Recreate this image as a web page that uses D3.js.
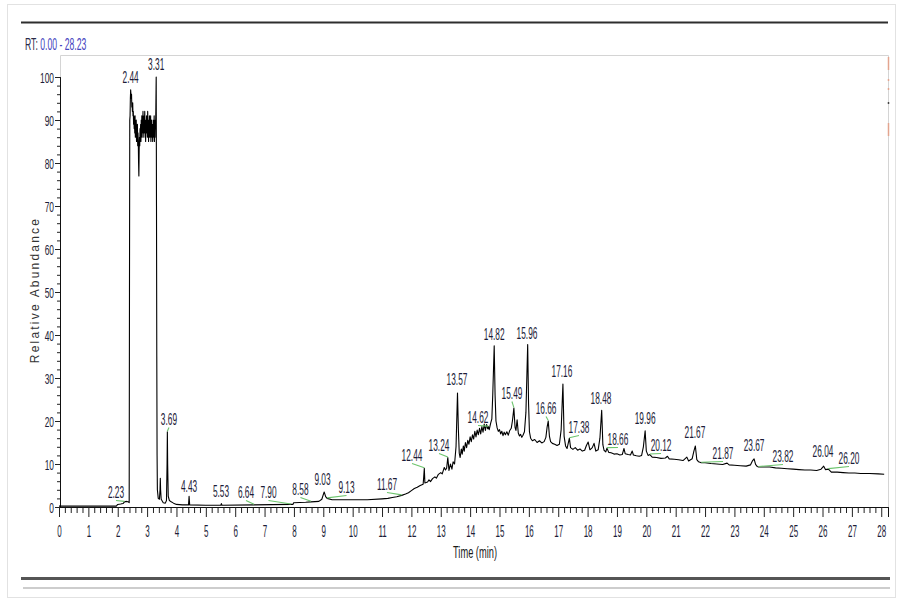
<!DOCTYPE html>
<html><head><meta charset="utf-8">
<script src="https://cdn.jsdelivr.net/npm/d3@7"></script>
<style>
html,body{margin:0;padding:0;background:#fff;}
svg{display:block;}
</style></head>
<body>
<svg id="chart" width="902" height="603"></svg>
<script>
// ---------------- DATA ----------------
const rt = [0.00,1.95,2.00,2.10,2.18,2.23,2.30,2.36,2.39,2.40,2.41,2.42,2.43,2.44,
2.45,2.46,2.47,2.48,2.49,2.50,2.51,2.52,2.53,2.54,
2.55,2.56,2.57,2.58,2.59,2.60,2.61,2.62,2.63,2.64,
2.65,2.66,2.67,2.68,2.69,2.70,2.71,2.72,2.73,2.74,
2.75,2.76,2.77,2.78,2.79,2.80,2.81,2.82,2.83,2.84,
2.85,2.86,2.87,2.88,2.89,2.90,2.91,2.92,2.93,2.94,
2.95,2.96,2.97,2.98,2.99,3.00,3.01,3.02,3.03,3.04,
3.05,3.06,3.07,3.08,3.09,3.10,3.11,3.12,3.13,3.14,
3.15,3.16,3.17,3.18,3.19,3.20,3.21,3.22,3.23,3.24,
3.25,3.26,3.27,3.28,3.29,3.30,3.31,
3.32,3.33,3.34,3.35,3.38,3.42,3.44,3.45,3.46,3.48,3.55,3.62,3.66,3.68,3.69,3.70,3.72,3.76,3.82,3.90,4.00,4.20,4.41,4.43,4.45,5.00,5.51,5.53,5.55,6.64,7.90,7.97,7.99,8.40,8.58,8.85,8.95,9.03,9.08,9.13,9.30,9.80,10.50,11.00,11.20,11.35,11.50,11.67,11.80,11.90,12.00,12.10,12.20,12.30,12.40,12.42,12.44,12.46,12.55,12.60,12.65,12.72,12.80,12.85,12.92,13.00,13.05,13.12,13.16,13.20,13.24,13.28,13.33,13.38,13.42,13.47,13.52,13.57,13.60,13.63,13.66,13.70,13.73,13.77,13.80,13.84,13.88,13.92,13.96,14.00,14.04,14.08,14.12,14.16,14.20,14.24,14.28,14.32,14.36,14.40,14.44,14.48,14.52,14.56,14.60,14.62,14.65,14.70,14.74,14.77,14.82,14.85,14.88,14.92,14.96,15.00,15.04,15.08,15.12,15.16,15.20,15.25,15.30,15.35,15.40,15.44,15.49,15.53,15.56,15.60,15.64,15.68,15.72,15.76,15.80,15.85,15.90,15.96,15.99,16.02,16.06,16.12,16.20,16.28,16.36,16.44,16.52,16.58,16.62,16.66,16.70,16.74,16.80,16.88,16.96,17.04,17.10,17.16,17.20,17.25,17.30,17.38,17.42,17.50,17.58,17.66,17.74,17.82,17.90,17.96,18.02,18.08,18.16,18.22,18.28,18.36,18.42,18.48,18.52,18.56,18.62,18.66,18.72,18.80,18.90,19.00,19.10,19.18,19.24,19.28,19.38,19.46,19.52,19.56,19.66,19.76,19.84,19.90,19.96,20.00,20.06,20.12,20.20,20.35,20.50,20.65,20.72,20.78,20.95,21.10,21.25,21.38,21.44,21.56,21.62,21.67,21.72,21.78,21.87,22.00,22.20,22.40,22.60,22.75,22.82,23.00,23.20,23.40,23.55,23.62,23.67,23.72,23.78,23.82,24.00,24.20,24.40,24.60,24.80,25.00,25.20,25.40,25.60,25.80,25.95,26.04,26.10,26.20,26.30,26.50,26.70,26.90,27.10,27.30,27.60,27.90,28.10];
const abundance = [0.2,0.2,0.6,0.7,0.8,1.2,1.3,1.2,1.0,50,90,91,95,97,
96,95,96,93,94,92,94,91,92,89,
91,88,90,87,91,86,89,87,90,85,
88,86,89,84,87,85,80,77,83,86,
84,88,86,89,85,90,87,91,86,90,
88,92,87,90,86,91,88,92,87,90,
85,89,87,91,88,90,86,92,88,90,
85,89,87,91,86,90,88,91,85,89,
87,90,86,89,85,88,86,90,87,91,
85,89,86,90,88,94,100,
70,35,12,4,2.0,1.8,4,6.7,4,1.8,1.0,0.9,1.5,10,17.5,10,2.5,1.5,1.2,0.9,0.6,0.5,0.5,2.5,0.5,0.4,0.4,0.8,0.4,0.5,0.6,0.6,1.0,1.1,1.2,1.3,1.8,3.5,2.4,2.0,1.7,1.7,1.7,1.9,2.0,2.2,2.4,2.7,3.0,3.3,3.8,4.3,4.6,5.0,5.3,7,9,5.6,5.8,6.3,5.9,6.6,7.0,6.7,7.6,8.0,7.7,9.2,8.6,9.0,11.5,8.5,10.0,8.8,10.5,10.0,14,26.5,18,12.5,11.5,13.5,12.3,14.2,13.0,15.0,13.8,15.5,14.6,16.3,15.2,16.8,15.8,17.6,16.3,17.9,16.8,18.3,17.0,18.7,17.4,19.3,17.8,19.2,18.2,18.7,18.0,19.5,20.5,26,37.5,26,20,18.4,17.6,18.0,17.0,17.6,16.6,17.4,16.8,17.5,16.7,17.8,18.3,20,23,18.5,17.8,20.3,17.2,16.5,16.9,16.2,16.7,17.5,22,37.8,24,17.5,16.0,15.4,15.7,15.0,15.4,14.9,15.2,16.2,18.5,20,16.5,15.2,14.8,14.6,14.3,14.6,18,28.6,16.5,14.2,13.6,16,13.8,13.4,13.8,13.2,13.5,13.0,13.2,14.3,15.1,13.3,13.8,14.8,13.0,13.3,16,22.5,14.5,13.2,12.8,13.7,12.7,12.6,12.3,12.4,12.1,12.2,13.6,12.4,12.2,12.1,13.0,12.1,11.9,11.8,12.0,14,17.7,13.0,12.0,12.2,11.6,11.5,11.3,11.4,11.8,11.2,11.1,11.0,10.8,11.6,10.7,11.2,13,14.2,11.0,10.5,10.3,10.3,10.1,10.0,9.9,10.2,9.8,9.7,9.6,9.5,9.8,10.8,11.2,9.9,9.4,9.3,9.3,9.3,9.1,9.0,8.9,8.8,8.7,8.6,8.6,8.5,8.8,9.5,8.7,8.8,8.1,8.1,8.0,7.9,7.9,7.8,7.8,7.7,7.6];

const peakLabels = ["2.23","2.44","3.31","3.69","4.43","5.53","6.64","7.90","8.58","9.03","9.13","11.67","12.44","13.24","13.57","14.62","14.82","15.49","15.96","16.66","17.16","17.38","18.48","18.66","19.96","20.12","21.67","21.87","23.67","23.82","26.04","26.20"];
const peakAbundance = [1.2,97,100,17.5,2.5,0.8,0.5,0.6,1.2,3.5,2.0,2.7,9,11.5,26.5,18.7,37.5,23,37.8,20,28.6,16,22.5,13.7,17.7,12.2,14.2,10.3,11.2,9.3,9.5,8.8];
const peakLeader = [1,0,0,1,0,0,1,1,1,0,1,1,1,1,0,1,0,1,0,1,0,1,0,1,0,1,0,1,0,1,0,1];

const xTickLabels = d3.range(0, 29);        // 0 … 28 min
const yTickLabels = d3.range(0, 101, 10);   // 0 … 100 %
const rtRange = [0.00, 28.23];

// ---------------- LAYOUT ----------------
const labelNudge = [[-8.5,-3.8],[0,-7],[0,-7.5],[1.6,-6.7],[0,-4.5],[-0.4,-6.6],[-8,-6.9],[-22.5,-6.4],[-10.5,-6.8],[-1.7,-7],[19.4,-5.4],[-14.7,-5.4],[-12.3,-7.3],[-8.8,-6.5],[-0.5,-8],[-10.3,-3.6],[0,-5.8],[-1.9,-9.1],[-0.7,-5.5],[-2.2,-7],[-1,-7],[9.6,-5.2],[-0.7,-6.3],[11,-3.1],[0,-6.9],[11.2,-3.5],[-0.4,-7.9],[21.8,-3.7],[0,-7.8],[24.5,-5],[-0.7,-9.1],[20.6,-5.2]];

const svg = d3.select("#chart");
const FONT = "'Liberation Sans', Arial, sans-serif";
const INK = "#1c1c38";

const x = d3.scaleLinear().domain(rtRange).range([59, 888]);
const y = d3.scaleLinear().domain([0, 100]).range([507, 77]);

// page decorations
svg.append("rect").attr("x",7.5).attr("y",4.5).attr("width",888).attr("height",593)
  .attr("fill","none").attr("stroke","#e2e2e2").attr("stroke-width",1);
svg.append("line").attr("x1",21).attr("x2",888).attr("y1",22.5).attr("y2",22.5)
  .attr("stroke","#2e2e2e").attr("stroke-width",2);
svg.append("line").attr("x1",21).attr("x2",890).attr("y1",578.5).attr("y2",578.5)
  .attr("stroke","#555").attr("stroke-width",3);
svg.append("line").attr("x1",23).attr("x2",890).attr("y1",588).attr("y2",588)
  .attr("stroke","#bdbdbd").attr("stroke-width",1.5);

// plot frame (light)
svg.append("path").attr("d","M60.5,507 V55.5 H888.5 V507")
  .attr("fill","none").attr("stroke","#d4d4d4").attr("stroke-width",1);
// small coloured marks at right edge
[[57,70,"#e3a48f"],[79,81,"#e3a48f"],[88,90,"#e3a48f"],[102,104,"#444"],[123,136,"#e3a48f"]].forEach(m=>{
  svg.append("line").attr("x1",888.5).attr("x2",888.5).attr("y1",m[0]).attr("y2",m[1])
    .attr("stroke",m[2]).attr("stroke-width",1.5);
});

// RT header
const rtText = svg.append("text").attr("transform","translate(25,50) scale(0.54,1)")
  .attr("font-family",FONT).attr("font-size",16);
rtText.append("tspan").attr("fill","#2a2a48").text("RT: ");
rtText.append("tspan").attr("fill","#4545c0").text(rtRange[0].toFixed(2)+" - "+rtRange[1].toFixed(2));

// X axis
const xMinor = d3.range(0, 140.5).map(d => d/5).filter(d => d <= rtRange[1] && Math.abs(d - Math.round(d)) > 1e-6);
const gxm = svg.append("g").attr("transform","translate(0,507)")
  .call(d3.axisBottom(x).tickValues(xMinor).tickSize(6).tickFormat(""));
const gx = svg.append("g").attr("transform","translate(0,507)")
  .call(d3.axisBottom(x).tickValues(xTickLabels).tickSize(10).tickFormat(d3.format("d")));
[gx, gxm].forEach(g => { g.select(".domain").attr("stroke","#111"); g.selectAll(".tick line").attr("stroke","#222"); });
gx.selectAll(".tick text").attr("y",0).attr("dy",0)
  .attr("transform","translate(0,30) scale(0.5,1)")
  .attr("font-family",FONT).attr("font-size",16).attr("fill",INK);

// Y axis
const yMinor = d3.range(0, 101, 2).filter(d => d % 10 !== 0);
const gym = svg.append("g").attr("transform","translate(60,0)")
  .call(d3.axisLeft(y).tickValues(yMinor).tickSize(3).tickFormat(""));
const gy = svg.append("g").attr("transform","translate(60,0)")
  .call(d3.axisLeft(y).tickValues(yTickLabels).tickSize(5).tickFormat(d3.format("d")));
[gy, gym].forEach(g => { g.select(".domain").attr("stroke","#111"); g.selectAll(".tick line").attr("stroke","#222"); });
gy.selectAll(".tick text").attr("x",0).attr("dy",0)
  .attr("transform","translate(-6,5) scale(0.56,1)")
  .attr("font-family",FONT).attr("font-size",15).attr("fill",INK);

// axis titles
svg.append("text").attr("transform","translate(475,558) scale(0.58,1)")
  .attr("text-anchor","middle").attr("font-family",FONT).attr("font-size",16)
  .attr("fill","#1a1a1a").text("Time (min)");
svg.append("text").attr("transform","translate(39,290) rotate(-90)")
  .attr("text-anchor","middle").attr("font-family",FONT).attr("font-size",12)
  .attr("letter-spacing",2.2).attr("fill","#333").text("Relative Abundance");

// chromatogram trace
const pts = rt.map((t,i) => [t, abundance[i]]);
svg.append("path").datum(pts)
  .attr("d", d3.line().x(d => x(d[0])).y(d => y(d[1])))
  .attr("fill","none").attr("stroke","#000").attr("stroke-width",1.1)
  .attr("stroke-linejoin","round");

// peak labels
peakLabels.forEach((lab, i) => {
  const px = x(+lab), py = y(peakAbundance[i]);
  const lx = px + labelNudge[i][0], ly = py + labelNudge[i][1];
  if (peakLeader[i]) {
    svg.append("line").attr("x1",lx).attr("y1",ly+2.5).attr("x2",px).attr("y2",py-0.5)
      .attr("stroke","#6cc46c").attr("stroke-width",1.1);
  }
  svg.append("text").attr("transform",`translate(${lx},${ly}) scale(0.52,1)`)
    .attr("text-anchor","middle").attr("font-family",FONT).attr("font-size",16)
    .attr("fill",INK).text(lab);
});
</script>
</body></html>
